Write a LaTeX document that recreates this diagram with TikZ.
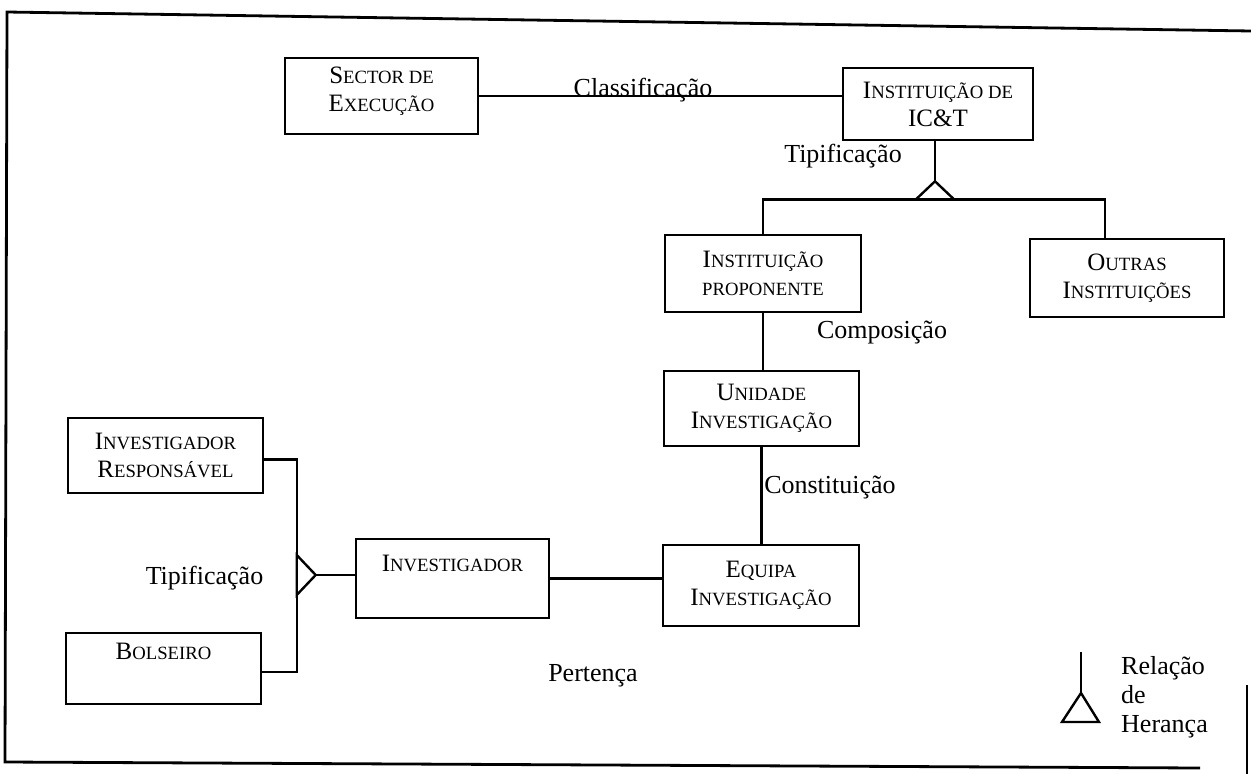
\documentclass[tikz,border=0pt]{standalone}
\usepackage{fontspec}
\setmainfont{Liberation Serif}
\usetikzlibrary{calc}
\newcommand\Bg[1]{{\fontsize{25}{29}\selectfont #1}}
\tikzset{
  ebox/.style={draw, line width=2.6pt, inner sep=0pt, align=center, font=\fontsize{18.7}{28}\selectfont},
  conn/.style={line width=2.4pt},
  lbl/.style={font=\fontsize{26}{29}\selectfont, inner sep=0pt, anchor=base},
  framel/.style={line width=2.8pt},
}
\begin{document}
\begin{tikzpicture}[x=1pt,y=-1pt]
\useasboundingbox (0,0) rectangle (1251,774);
% frame (scanned, slightly skewed)
\draw[framel] (1251,31) -- (7,12) -- (5,762) -- (1200,768);
\draw[framel] (1247,685) -- (1247,774);

% boxes
\node[ebox, minimum width=193pt, minimum height=76pt] (sector) at (381.5,96) {\Bg{S}ECTOR DE\\\Bg{E}XECUÇÃO\\[-14pt]\mbox{}};
\node[ebox, minimum width=190pt, minimum height=72pt] (ict) at (938,104) {\Bg{I}NSTITUIÇÃO DE\\\Bg{IC\&T}};
\node[ebox, minimum width=196pt, minimum height=77pt] (prop) at (763,273.5) {\Bg{I}NSTITUIÇÃO\\PROPONENTE};
\node[ebox, minimum width=194pt, minimum height=78pt] (outras) at (1127,278) {\Bg{O}UTRAS\\\Bg{I}NSTITUIÇÕES};
\node[ebox, minimum width=195pt, minimum height=75pt] (unid) at (761.5,408.5) {\Bg{U}NIDADE\\\Bg{I}NVESTIGAÇÃO};
\node[ebox, minimum width=196pt, minimum height=81pt] (equipa) at (761,585.5) {\Bg{E}QUIPA\\\Bg{I}NVESTIGAÇÃO};
\node[ebox, minimum width=193pt, minimum height=79pt] (invest) at (452.5,578.5) {\Bg{I}NVESTIGADOR\\[2pt]\mbox{}};
\node[ebox, minimum width=195pt, minimum height=75pt] (invresp) at (165.5,455.5) {\Bg{I}NVESTIGADOR\\\Bg{R}ESPONSÁVEL};
\node[ebox, minimum width=195pt, minimum height=71pt] (bolseiro) at (163.5,668.5) {\Bg{B}OLSEIRO\\[6pt]\mbox{}};

% connectors
\draw[conn] (sector.east) -- (sector.east -| ict.west);
\coordinate (t1) at ($(ict.south)+(-3,40)$);
\draw[conn] (ict.south -| t1) -- (t1);
\draw[conn] (t1) -- ++(-19,18) -- ++(38,0) -- cycle;
\coordinate (tb) at ($(t1)+(0,18)$);
\draw[conn] (prop.north) |- (tb);
\draw[conn] ([xshift=-22pt]outras.north) |- (tb);
\draw[conn] (prop.south) -- (prop.south |- unid.north);
\draw[conn] (unid.south) -- (unid.south |- equipa.north);
\draw[conn] (invest.east) -- (invest.east -| equipa.west);

\coordinate (t2) at ($(invest.west)+(-39,-3.5)$);
\draw[conn] (t2) -- ++(-19,-20) -- ++(0,40) -- cycle;
\draw[conn] (t2) -- (t2 -| invest.west);
\coordinate (tb2) at ($(t2)+(-19,0)$);
\draw[conn] ([yshift=-4pt]invresp.east) -| (tb2) |- ([yshift=-3.5pt]bolseiro.east);

% labels
\node[lbl] (lclass) at (643,96) {Classificação};
\node[lbl] (ltip1) at (843,162) {Tipificação};
\node[lbl] (lcomp) at (882,338) {Composição};
\node[lbl] (lcons) at (830,493) {Constituição};
\node[lbl] (ltip2) at (204.5,584) {Tipificação};
\node[lbl] (lpert) at (593,681) {Pertença};

% legend
\coordinate (la) at (1081,693);
\draw[conn] (la) -- ++(0,-41);
\draw[conn] (la) -- ++(-19,29) -- ++(37,0) -- cycle;
\node[font=\fontsize{26}{29}\selectfont, align=left, anchor=north west, inner sep=0pt] (leg) at (1121,656) {Relação\\de\\Herança};
\end{tikzpicture}
\end{document}
